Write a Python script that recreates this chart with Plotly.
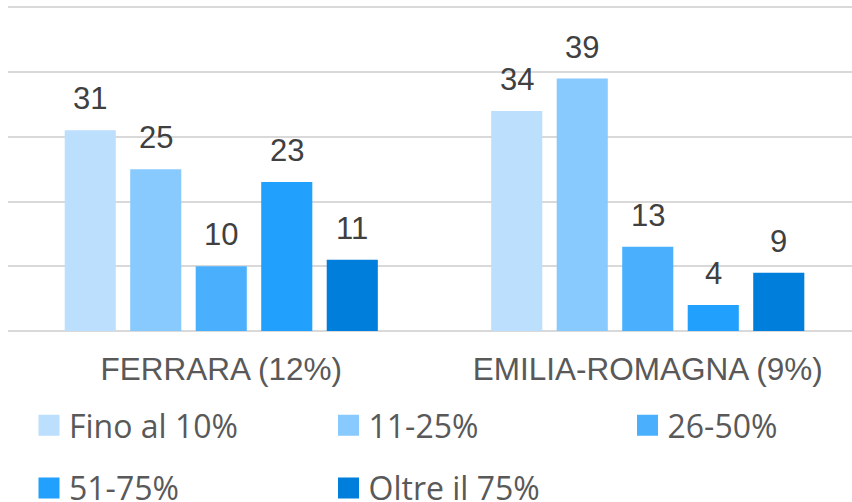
import plotly.graph_objects as go

categories = ["FERRARA (12%)", "EMILIA-ROMAGNA (9%)"]
series_names = ["Fino al 10%", "11-25%", "26-50%", "51-75%", "Oltre il 75%"]
fino_10 = [31, 34]
da_11_25 = [25, 39]
da_26_50 = [10, 13]
da_51_75 = [23, 4]
oltre_75 = [11, 9]
series_values = [fino_10, da_11_25, da_26_50, da_51_75, oltre_75]
colors = ["#BBDFFD", "#88CAFE", "#4AB0FE", "#21A0FE", "#007EDB"]
legend_columns = ["legend", "legend2", "legend3", "legend", "legend2"]

W, H = 852, 502
bargap = 0.232
bargroupgap = 0.22
n = len(series_names)
slot = (1 - bargap) / n
xpos = list(range(len(categories)))

fig = go.Figure()
for k, (name, vals, col) in enumerate(zip(series_names, series_values, colors)):
    fig.add_trace(go.Bar(x=xpos, y=vals, name=name, marker_color=col,
                         marker_line_width=0, showlegend=False, hoverinfo="skip"))
    for ci, v in enumerate(vals):
        fig.add_annotation(x=ci + (k - (n - 1) / 2) * slot, y=v, text=str(v),
                           showarrow=False, yanchor="bottom", yshift=12,
                           font=dict(family="Liberation Sans, Arial", size=31, color="#404040"))
    # legend proxy
    fig.add_trace(go.Scatter(x=[None], y=[None], mode="markers", name=name,
                             legendgroup=name,
                             marker=dict(symbol="square", size=17, color=col,
                                         line=dict(color=col, width=5)),
                             legend=legend_columns[k]))

plot_left = 8
plot_w = W - plot_left
x_max = -0.5 + plot_w / 426.5

legend_font = dict(family="Open Sans", size=32, color="#595959")
leg_common = dict(orientation="v", xref="container", yref="container",
                  xanchor="left", yanchor="top", font=legend_font,
                  itemclick=False, tracegroupgap=18, bgcolor="rgba(0,0,0,0)")
y_top = (H - 398) / H
fig.update_layout(
    width=W, height=H,
    margin=dict(l=plot_left, r=0, t=6, b=171, autoexpand=False),
    paper_bgcolor="white", plot_bgcolor="white",
    barmode="group", bargap=bargap, bargroupgap=bargroupgap,
    xaxis=dict(range=[-0.5, x_max], tickvals=xpos, ticktext=categories,
               automargin=False, showgrid=False, zeroline=False, ticks="",
               ticklabelstandoff=16,
               tickfont=dict(family="Liberation Sans, Arial", size=31.5, color="#595959")),
    yaxis=dict(range=[0, 50.2], dtick=10, showticklabels=False, automargin=False,
               showgrid=True, gridcolor="#D9D9D9", gridwidth=1.5,
               zeroline=True, zerolinecolor="#D9D9D9", zerolinewidth=1.5),
    legend=dict(x=29 / W, y=y_top, **leg_common),
    legend2=dict(x=328.5 / W, y=y_top, **leg_common),
    legend3=dict(x=627.5 / W, y=y_top, **leg_common),
)

fig.write_html("out.html", config={"displayModeBar": False},
               post_script="document.body.style.margin='0';")
